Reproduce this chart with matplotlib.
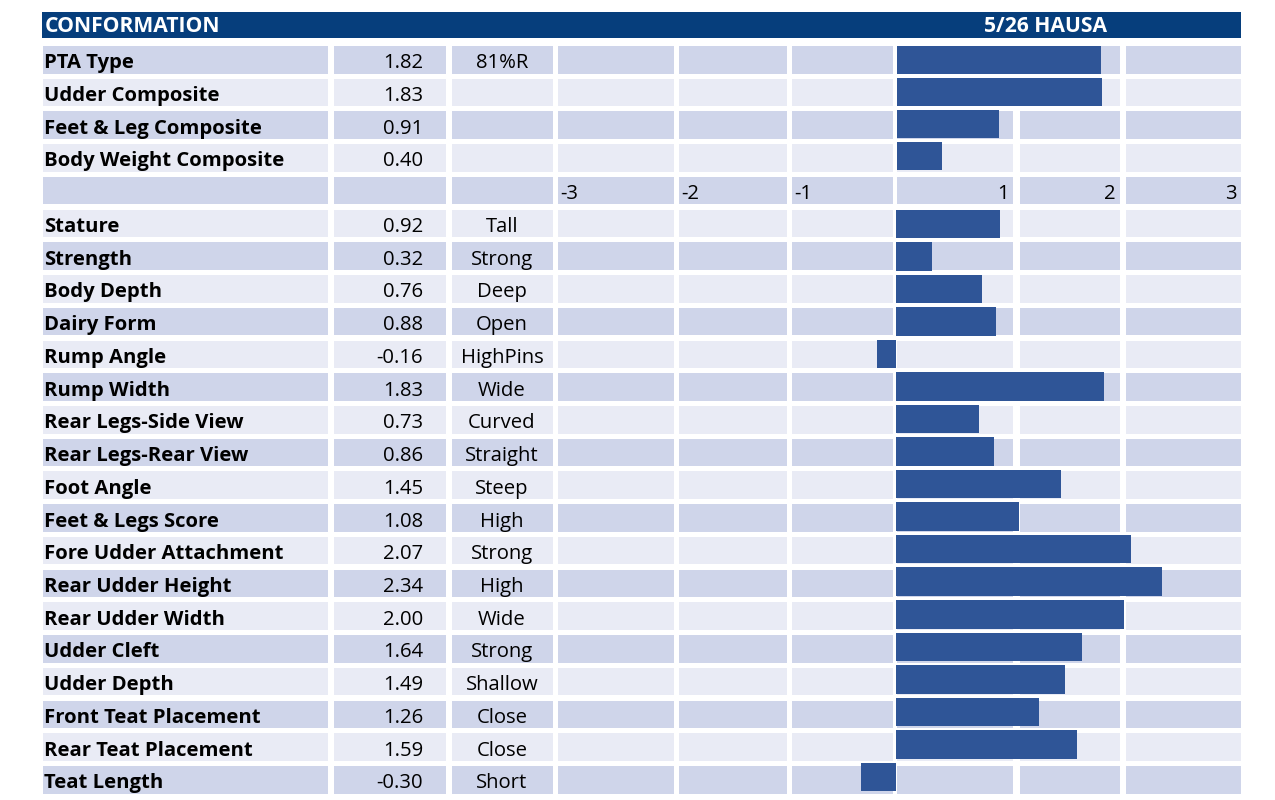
import matplotlib
matplotlib.use("Agg")
import matplotlib.pyplot as plt
from matplotlib.patches import Rectangle

# ---------------- data ----------------
title_left = "CONFORMATION"
title_right = "5/26 HAUSA"

composite_names = ["PTA Type", "Udder Composite", "Feet & Leg Composite", "Body Weight Composite"]
composite_values = [1.82, 1.83, 0.91, 0.40]
composite_notes = ["81%R", "", "", ""]

trait_names = ["Stature", "Strength", "Body Depth", "Dairy Form", "Rump Angle", "Rump Width",
               "Rear Legs-Side View", "Rear Legs-Rear View", "Foot Angle", "Feet & Legs Score",
               "Fore Udder Attachment", "Rear Udder Height", "Rear Udder Width", "Udder Cleft",
               "Udder Depth", "Front Teat Placement", "Rear Teat Placement", "Teat Length"]
trait_values = [0.92, 0.32, 0.76, 0.88, -0.16, 1.83, 0.73, 0.86, 1.45, 1.08,
                2.07, 2.34, 2.00, 1.64, 1.49, 1.26, 1.59, -0.30]
trait_notes = ["Tall", "Strong", "Deep", "Open", "HighPins", "Wide", "Curved", "Straight",
               "Steep", "High", "Strong", "High", "Wide", "Strong", "Shallow", "Close",
               "Close", "Short"]

scale_labels = ["-3", "-2", "-1", "1", "2", "3"]

# ---------------- style / layout ----------------
W, H = 1275, 800
DARK = "#CFD5EA"
LIGHT = "#E9EBF5"
HEADER = "#063E7C"
BAR = "#2F5597"
FONT = "Open Sans"
FS = 14.6
FS_HEAD = 15.2

fig = plt.figure(figsize=(W / 100, H / 100), dpi=100)
bg = fig.add_axes([0, 0, 1, 1])
bg.set_xlim(0, W)
bg.set_ylim(H, 0)
bg.axis("off")

# header
bg.add_patch(Rectangle((42, 12), 1241 - 42, 25.5, color=HEADER, lw=0))
bg.text(45, 31.8, title_left, color="white", fontsize=FS_HEAD, fontweight="bold",
        family=FONT, va="baseline", ha="left")
bg.text(1046, 31.8, title_right, color="white", fontsize=FS_HEAD, fontweight="bold",
        family=FONT, va="baseline", ha="center")

ROW_TOP0 = 46.0
PITCH = 32.73
CELL_H = 27.5
BASE_OFF = 22.3
cols = [(43, 328), (334, 446), (452, 553)]
chart_cells = [(558, 674), (679, 787), (792, 893), (897, 1013), (1020, 1120), (1126, 1241)]

n_rows = len(composite_names) + 1 + len(trait_names)

def row_top(i):
    return ROW_TOP0 + i * PITCH

for i in range(n_rows):
    c = DARK if i % 2 == 0 else LIGHT
    top = row_top(i)
    for (x0, x1) in cols + chart_cells:
        bg.add_patch(Rectangle((x0, top), x1 - x0, CELL_H, color=c, lw=0))

names = composite_names + [""] + trait_names
values = composite_values + [None] + trait_values
notes = composite_notes + [""] + trait_notes

for i, (n, v, t) in enumerate(zip(names, values, notes)):
    y = row_top(i) + BASE_OFF
    if n:
        bg.text(44, y, n, fontsize=FS, fontweight="bold", family=FONT, va="baseline",
                ha="left", color="black")
    if v is not None:
        bg.text(423, y, f"{v:.2f}", fontsize=FS, family=FONT, va="baseline", ha="right",
                color="black")
    if t:
        bg.text(502, y, t, fontsize=FS, family=FONT, va="baseline", ha="center",
                color="black")

# scale row labels
axis_row = len(composite_names)
yb = row_top(axis_row) + BASE_OFF
for lab, (x0, x1) in zip(scale_labels, chart_cells):
    if lab.startswith("-"):
        bg.text(x0 + 2, yb, lab, fontsize=FS, family=FONT, va="baseline", ha="left")
    else:
        bg.text(x1 - 4, yb, lab, fontsize=FS, family=FONT, va="baseline", ha="right")

# ---------------- bar axes ----------------
def bar_axes(centre0, pitch, bar_h, n, zero_px, px_per_unit, vals):
    x0, x1 = 558, 1241
    ytop = centre0 - pitch / 2
    ybot = centre0 + (n - 1) * pitch + pitch / 2
    ax = fig.add_axes([x0 / W, 1 - ybot / H, (x1 - x0) / W, (ybot - ytop) / H])
    ax.set_xlim((x0 - zero_px) / px_per_unit, (x1 - zero_px) / px_per_unit)
    ax.set_ylim(n - 0.5, -0.5)
    ax.barh(range(n), vals, height=bar_h / pitch, color=BAR, lw=0)
    ax.axis("off")
    ax.patch.set_alpha(0)
    return ax

bar_axes(59.8, 31.95, 28.0, len(composite_values), 897.0, 112.0, composite_values)
bar_axes(223.9, 32.53, 28.5, len(trait_values), 895.5, 114.0, trait_values)

fig.savefig("out.png", dpi=100)
